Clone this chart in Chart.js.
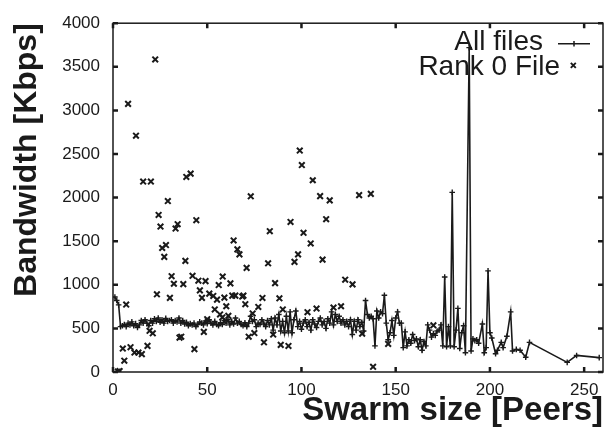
<!DOCTYPE html>
<html>
<head>
<meta charset="utf-8">
<script src="https://cdn.jsdelivr.net/npm/chart.js@4.4.0/dist/chart.umd.min.js"></script>
<style>
    html, body { margin: 0; padding: 0; background: #fff; }
    #wrap { width: 615px; height: 432px; }
</style>
</head>
<body>
<div id="wrap"><canvas id="chart"></canvas></div>
<script>
(function () {
    "use strict";

    // Data
    const xTicks = [0, 50, 100, 150, 200, 250];
    const yTicks = [0, 500, 1000, 1500, 2000, 2500, 3000, 3500, 4000];

    const allFilesX = [
        1, 2, 3, 4, 5, 6, 7, 8, 9, 10, 11, 12, 13, 14, 15, 16, 17, 18, 19, 20,
        21, 22, 23, 24, 25, 26, 27, 28, 29, 30, 31, 32, 33, 34, 35, 36, 37, 38, 39, 40,
        41, 42, 43, 44, 45, 46, 47, 48, 49, 50, 51, 52, 53, 54, 55, 56, 57, 58, 59, 60,
        61, 62, 63, 64, 65, 66, 67, 68, 69, 70, 71, 72, 73, 74, 75, 76, 77, 78, 79, 80,
        81, 82, 83, 84, 85, 86, 87, 88, 89, 90, 91, 92, 93, 94, 95, 96, 97, 98, 99, 100,
        101, 102, 103, 104, 105, 106, 107, 108, 109, 110, 111, 112, 113, 114, 115, 116, 117, 118, 119, 120,
        121, 122, 123, 124, 125, 126, 127, 128, 129, 130, 131, 132, 133, 134, 135, 136, 137, 138, 139, 140,
        141, 142, 143, 144, 145, 146, 147, 148, 149, 150, 151, 152, 153, 154, 155, 156, 157, 158, 159, 160,
        161, 162, 163, 164, 165, 166, 167, 168, 169, 170, 171, 172, 173, 174, 175, 176, 177, 178, 179, 180,
        181, 182, 183, 184, 185, 186, 187, 189, 190, 191, 192, 193, 194, 196, 197, 198, 199, 200,
        201, 203, 204, 206, 207, 209, 211, 212, 214, 216, 219, 221, 241, 246, 258
    ];
    const allFilesY = [
        860, 820, 770, 520, 530, 545, 520, 560, 540, 575, 530, 555, 510, 540, 590, 560, 600, 560, 530, 590,
        560, 610, 580, 620, 570, 600, 560, 615, 580, 590, 600, 560, 590, 575, 620, 560, 590, 550, 570, 530,
        555, 540, 560, 520, 545, 575, 560, 540, 585, 555, 600, 560, 540, 580, 545, 530, 565, 545, 590, 560,
        600, 540, 580, 550, 620, 560, 580, 545, 530, 565, 520, 560, 640, 580, 600, 520, 560, 545, 600, 560,
        520, 590, 540, 610, 480, 620, 540, 660, 470, 580, 450, 640, 470, 690, 450, 600, 700, 520, 580, 490,
        560, 600, 520, 570, 480, 600, 550, 510, 580, 620, 540, 580, 500, 610, 560, 690, 540, 660, 580, 640,
        560, 600, 540, 580, 520, 600, 430, 580, 480, 600, 520, 570, 470, 820, 660, 620, 640, 610, 300, 700,
        620, 690, 670, 880, 560, 370, 450, 590, 420, 620, 690, 560, 560, 280, 460, 300, 370, 330, 430, 360,
        380, 290, 370, 250, 350, 300, 540, 480, 400, 440, 420, 470, 480, 540, 300, 1090, 290, 520, 300, 2060,
        290, 480, 730, 270, 450, 530, 220, 3720, 240, 380, 360, 370, 330, 550, 220, 280, 1160, 450,
        390, 210, 250, 340, 280, 410, 690, 240, 260, 250, 170, 340, 110, 190, 165
    ];

    const rankZeroX = [
        2.6, 3.5, 5.2, 6.0, 7.0, 8.0, 9.3, 11.4, 12.2, 13.5, 15.3, 16.0, 18.3, 19.4, 20.1, 21.1, 22.4, 23.3,
        24.2, 25.2, 26.1, 27.2, 28.1, 29.1, 30.2, 31.1, 32.3, 33.2, 34.3, 35.3, 36.2, 37.3, 38.4, 38.9,
        41.2, 42.2, 43.2, 44.2, 45.3, 46.1, 47.2, 48.2, 49.1, 50.0, 51.1, 53.2, 54.0, 55.2, 56.1, 56.8,
        58.0, 58.2, 59.1, 60.1, 61.2, 62.3, 63.3, 64.0, 64.9, 66.0, 67.1, 68.6, 69.2, 70.2, 70.9, 72.0,
        73.1, 74.1, 75.0, 77.1, 79.3, 80.1, 82.3, 83.2, 85.0, 86.0, 88.3, 89.0, 90.1, 93.1, 94.2, 96.3,
        98.2, 99.1, 100.2, 101.1, 103.2, 104.9, 106.0, 108.0, 109.9, 111.2, 113.1, 115.0, 117.0, 121.0,
        123.2, 127.1, 130.6, 132.2, 136.8, 138.0, 146.0, 170.0
    ];
    const rankZeroY = [
        5, 10, 269, 130, 774, 3075, 284, 223, 2710, 223, 205, 2184, 300, 473, 2184, 444, 3584, 891,
        1801, 1668, 1422, 1320, 1456, 1960, 850, 1099, 1012, 1645, 1695, 394, 405, 1008, 1274, 2237,
        2275, 1103, 262, 1741, 1047, 936, 850, 460, 1042, 605, 899, 872, 717, 830, 997, 660,
        626, 1095, 853, 754, 644, 1016, 876, 1509, 876, 1406, 1349, 865, 876, 777, 1194, 405,
        2015, 671, 447, 746, 849, 341, 1247, 1615, 430, 1019, 845, 311, 717, 299, 1721, 1263,
        1349, 2540, 2373, 1596, 686, 1474, 2199, 728, 2017, 1289, 1752, 1968, 739, 754,
        1058, 1005, 2028, 440, 2043, 60, 322, 536
    ];

    const allFilesPoints = allFilesX.map((x, i) => ({ x: x, y: allFilesY[i] }));
    const rankZeroPoints = rankZeroX.map((x, i) => ({ x: x, y: rankZeroY[i] }));

    const fontFamily = "'Liberation Sans', Arial, Helvetica, sans-serif";
    const ink = "#1a1a1a";

    // Frame with inward ticks on all four sides, plus the key
    const framePlugin = {
        id: "frame",
        afterDraw(chart) {
            const ctx = chart.ctx;
            const a = chart.chartArea;
            const xs = chart.scales.x;
            const ys = chart.scales.y;
            ctx.save();
            ctx.strokeStyle = ink;
            ctx.lineWidth = 1.5;
            ctx.strokeRect(a.left, a.top, a.right - a.left, a.bottom - a.top);

            ctx.lineWidth = 2.5;
            ctx.beginPath();
            xTicks.forEach((v) => {
                const px = xs.getPixelForValue(v);
                ctx.moveTo(px, a.bottom);
                ctx.lineTo(px, a.bottom - 5);
                ctx.moveTo(px, a.top);
                ctx.lineTo(px, a.top + 5);
            });
            yTicks.forEach((v) => {
                const py = ys.getPixelForValue(v);
                ctx.moveTo(a.left, py);
                ctx.lineTo(a.left + 5, py);
                ctx.moveTo(a.right, py);
                ctx.lineTo(a.right - 5, py);
            });
            ctx.stroke();

            // key
            ctx.fillStyle = ink;
            ctx.font = "28px " + fontFamily;
            ctx.textAlign = "right";
            ctx.textBaseline = "alphabetic";
            ctx.fillText("All files", 543, 49.5);
            ctx.fillText("Rank 0 File", 560, 75);

            ctx.lineWidth = 1.5;
            ctx.beginPath();
            ctx.moveTo(558, 43.7);
            ctx.lineTo(590, 43.7);
            ctx.moveTo(574, 41);
            ctx.lineTo(574, 46.4);
            ctx.stroke();

            ctx.lineWidth = 1.9;
            ctx.beginPath();
            ctx.moveTo(570.8, 62.8);
            ctx.lineTo(575.8, 67.8);
            ctx.moveTo(575.8, 62.8);
            ctx.lineTo(570.8, 67.8);
            ctx.stroke();
            ctx.restore();
        },
    };

    const ctx = document.getElementById("chart").getContext("2d");
    const chart = new Chart(ctx, {
        type: "scatter",
        data: {
            datasets: [
                {
                    label: "All files",
                    data: allFilesPoints,
                    showLine: true,
                    borderColor: ink,
                    borderWidth: 1.6,
                    pointStyle: "cross",
                    pointRadius: 2.8,
                    pointBorderWidth: 1.4,
                    pointBorderColor: ink,
                    pointBackgroundColor: ink,
                    tension: 0,
                },
                {
                    label: "Rank 0 File",
                    data: rankZeroPoints,
                    showLine: false,
                    pointStyle: "crossRot",
                    pointRadius: 4,
                    pointBorderWidth: 2,
                    pointBorderColor: ink,
                    pointBackgroundColor: ink,
                },
            ],
        },
        options: {
            responsive: true,
            maintainAspectRatio: false,
            animation: false,
            devicePixelRatio: 1,
            layout: {
                padding: { left: 0, top: 21, right: 12, bottom: 0 },
            },
            plugins: {
                legend: { display: false },
                tooltip: { enabled: false },
            },
            scales: {
                x: {
                    type: "linear",
                    min: 0,
                    max: 260,
                    afterBuildTicks: (scale) => {
                        scale.ticks = xTicks.map((v) => ({ value: v }));
                    },
                    afterFit: (scale) => {
                        scale.height = 60;
                    },
                    grid: { display: false, drawTicks: false },
                    border: { display: false },
                    ticks: {
                        color: ink,
                        padding: 8,
                        maxRotation: 0,
                        autoSkip: false,
                        font: { family: fontFamily, size: 17 },
                        callback: (v) => String(v),
                    },
                    title: {
                        display: true,
                        text: "Swarm size [Peers]",
                        align: "end",
                        color: ink,
                        font: { family: fontFamily, size: 33, weight: "bold" },
                        padding: { top: 0, bottom: 1 },
                    },
                },
                y: {
                    type: "linear",
                    min: 0,
                    max: 4000,
                    afterBuildTicks: (scale) => {
                        scale.ticks = yTicks.map((v) => ({ value: v }));
                    },
                    afterFit: (scale) => {
                        scale.width = 113;
                    },
                    grid: { display: false, drawTicks: false },
                    border: { display: false },
                    ticks: {
                        color: ink,
                        padding: 13,
                        autoSkip: false,
                        font: { family: fontFamily, size: 17 },
                        callback: (v) => String(v),
                    },
                    title: {
                        display: true,
                        text: "Bandwidth [Kbps]",
                        align: "end",
                        color: ink,
                        font: { family: fontFamily, size: 32, weight: "bold" },
                        padding: { top: 8, bottom: 0 },
                    },
                },
            },
        },
        plugins: [framePlugin],
    });
})();
</script>
</body>
</html>
